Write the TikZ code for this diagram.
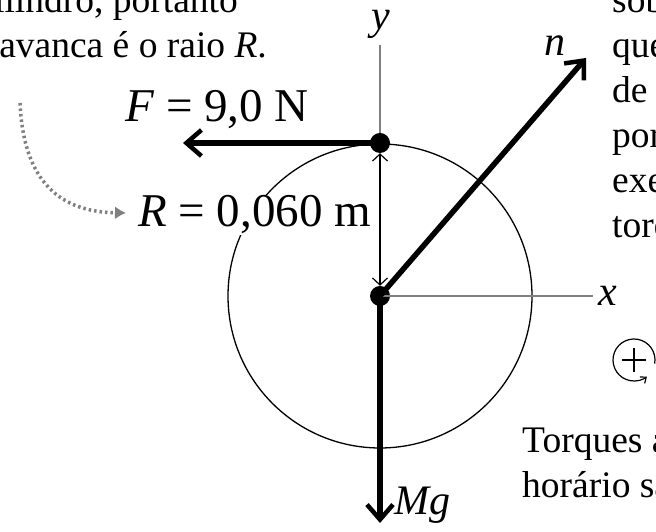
\documentclass[tikz,border=0pt]{standalone}
\usepackage{fontspec}
\setmainfont{Liberation Serif}
\usetikzlibrary{arrows.meta}

\begin{document}
\begin{tikzpicture}[x=1pt,y=1pt,
dot/.style={circle,fill,inner sep=0,minimum size=20pt},
axis/.style={gray,line width=1.5pt},
force/.style={line width=5.5pt,-{Straight Barb[length=15pt,width=26pt,line width=4.5pt]}},
dim/.style={line width=1.2pt,{Straight Barb[length=7pt,width=15pt]}-{Straight Barb[length=7pt,width=15pt]}},
hint/.style={gray,line width=3.5pt,dash pattern=on 2.5pt off 3pt,-{Latex[length=11pt,width=13pt]}},
txt/.style={font=\fontsize{37.5}{45}\selectfont,inner sep=0},
lbl/.style={font=\fontsize{47}{50}\selectfont,inner sep=0},
var/.style={font=\fontsize{42}{46}\selectfont\itshape,inner sep=0}]
\useasboundingbox (0,0) rectangle (656,532);
\clip (0,0) rectangle (656,532);
% wheel and axes
\node[dot] (ctr) at (380,236) {};
\node[dot] (top) at (380,389) {};
\draw[line width=1.3pt] (ctr) circle[radius=152];
\coordinate (ytop) at (380,487);
\coordinate (xend) at (593,236);
\draw[axis] (ytop) -- (top);
\draw[axis] (ctr.center) -- (xend);
\node[var] (ylbl) at (381,508) {y};
\node[var,anchor=west] (xlbl) at (598,236) {x};
% forces
\coordinate (ftip) at (183,389);
\coordinate (ntip) at (586,474);
\coordinate (mtip) at (380,9);
\draw[force] (top.center) -- (ftip);
\draw[force] (ctr.center) -- (ntip);
\draw[force] (ctr.center) -- (mtip);
\node[lbl,anchor=base west] (flbl) at (125,410) {\textit{F} = 9,0 N};
\node[var] (nlbl) at (555,486) {n};
\node[var,anchor=base west] (mlbl) at (394,17) {Mg};
% radius
\draw[dim] (top.south) -- (ctr.north);
\node[lbl,anchor=base west,fill=white,inner sep=1pt] (rlbl) at (137,305) {\textit{R} = 0,060 m};
\coordinate (hstart) at (20,429);
\coordinate (hend) at (126,319);
\draw[hint] (hstart) .. controls (24,340) and (70,320) .. (hend);
% sign convention
\coordinate (plus) at (634,172);
\draw[line width=1.6pt] ([xshift=-12pt]plus) -- ([xshift=12pt]plus)
  ([yshift=-12pt]plus) -- ([yshift=12pt]plus);
\draw[line width=1.2pt,-{Straight Barb[length=5pt,width=8pt]}] ([shift={(-10:21)}]plus) arc[start angle=-10,end angle=308,radius=21];
% surrounding text
\node[txt,anchor=base east] (l1) at (238,519) {cilindro, portanto};
\node[txt,anchor=base east] (l2) at (267,474) {braço de alavanca é o raio \textit{R}.};
\foreach \w [count=\i] in {sobre,que,de,por,exerce,torque}
  \node[txt,anchor=base west] (r\i) at (612,564-45*\i) {\w};
\node[txt,anchor=base west] (b1) at (522,79) {Torques anti-};
\node[txt,anchor=base west] (b2) at (522,34) {horário são};
\end{tikzpicture}
\end{document}
